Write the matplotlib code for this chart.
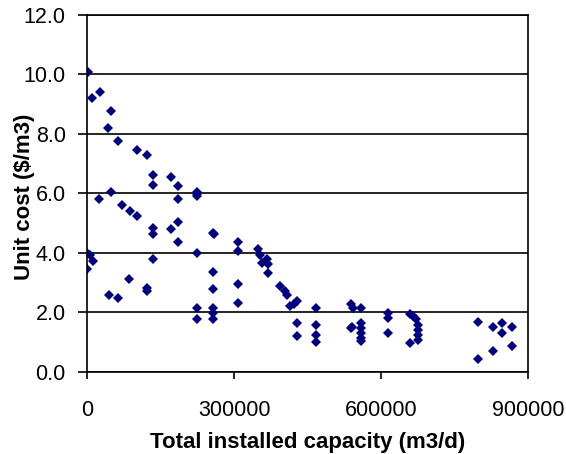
import matplotlib.pyplot as plt
from matplotlib.ticker import FormatStrFormatter

plt.rcParams['font.family'] = ['Liberation Sans', 'DejaVu Sans']

# capacity (m3/d) and unit cost ($/m3)
capacity = [
    2000, 10800, 26500, 48400, 42200, 63900, 101400, 121800, 134000, 134000,
    171400, 185100, 223900, 223900, 225000, 25100, 49000, 70800, 87800, 102700,
    185100, 134000, 134000, 171400, 185100, 185100, 257800, 259000, 0, 6100,
    12900, 0, 134000, 223900, 257800, 86300, 45500, 63900, 121800, 122500,
    257800, 223900, 223900, 257800, 257800, 257800, 308800, 308800, 308800, 308800,
    349600, 353000, 356500, 366700, 369500, 369500, 393900, 404000, 408000, 414300,
    428000, 423000, 428000, 428000, 467300, 467300, 467300, 467300, 538200, 538200,
    543000, 558600, 540000, 558600, 558600, 558600, 558600, 558600, 614900, 614900,
    614900, 659200, 666000, 672000, 675000, 675000, 675000, 675000, 659200, 798600,
    798600, 828000, 828000, 847600, 847600, 866700, 866700,
]
unit_cost = [
    10.08, 9.20, 9.41, 8.77, 8.19, 7.76, 7.46, 7.30, 6.63, 6.29,
    6.56, 6.24, 5.98, 6.05, 5.92, 5.81, 6.05, 5.62, 5.41, 5.24,
    5.81, 4.82, 4.65, 4.80, 5.04, 4.35, 4.68, 4.62, 3.99, 3.92,
    3.73, 3.47, 3.78, 3.99, 3.36, 3.11, 2.58, 2.47, 2.72, 2.82,
    2.77, 2.15, 1.76, 2.15, 1.99, 1.78, 4.35, 4.07, 2.96, 2.32,
    4.12, 3.92, 3.67, 3.78, 3.62, 3.34, 2.88, 2.72, 2.57, 2.21,
    2.38, 2.27, 1.65, 1.20, 2.13, 1.59, 1.25, 1.00, 2.27, 1.48,
    2.15, 2.15, 1.51, 1.65, 1.48, 1.31, 1.14, 1.03, 1.99, 1.82,
    1.31, 1.93, 1.87, 1.76, 1.59, 1.42, 1.25, 1.08, 0.97, 1.67,
    0.43, 1.51, 0.69, 1.65, 1.31, 1.51, 0.88,
]

fig = plt.figure(figsize=(5.66, 4.54), dpi=100)
ax = fig.add_axes([0.154, 0.181, 0.779, 0.786])

ax.plot(capacity, unit_cost, linestyle='none', marker='D', markersize=5.5,
        color='#000080', markeredgewidth=0)

ax.set_xlim(0, 900000)
ax.set_ylim(0, 12)
ax.set_xticks([0, 300000, 600000, 900000])
ax.set_yticks([0, 2, 4, 6, 8, 10, 12])
ax.yaxis.set_major_formatter(FormatStrFormatter('%.1f'))
ax.grid(axis='y', color='black', linewidth=1.2)
ax.set_axisbelow(True)

for s in ax.spines.values():
    s.set_color('black')
    s.set_linewidth(1.2)

ax.tick_params(axis='x', direction='out', length=5, width=1.2, pad=15,
               labelsize=15.5, colors='black')
ax.tick_params(axis='y', direction='out', length=6.5, width=1.2, pad=9,
               labelsize=15.5, colors='black')

ax.set_xlabel('Total installed capacity (m3/d)', fontsize=16,
              fontweight='bold')
ax.set_ylabel('Unit cost ($/m3)', fontsize=16, fontweight='bold')
ax.xaxis.set_label_coords(0.5, -0.17)
ax.yaxis.set_label_coords(-0.119, 0.49)

fig.savefig('out.png', dpi=100)
